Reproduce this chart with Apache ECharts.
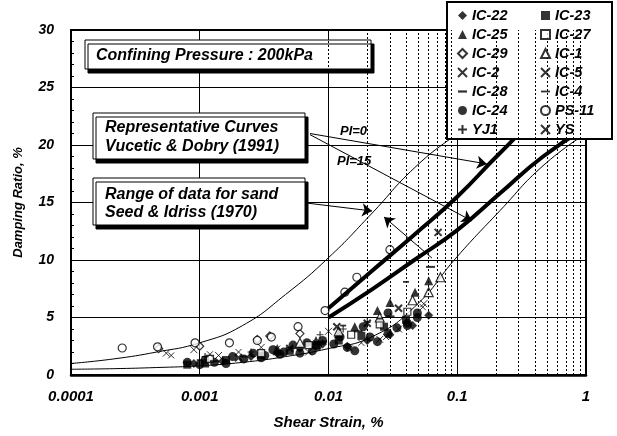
<!DOCTYPE html>
<html><head><meta charset="utf-8">
<script src="https://cdn.jsdelivr.net/npm/echarts@6/dist/echarts.min.js"></script>
<style>html,body{margin:0;padding:0;background:#fff}#c{width:617px;height:436px}</style>
</head><body><div id="c"></div>
<script>
// ---- tick labels ----
const xTickLabels = ['0.0001', '0.001', '0.01', '0.1', '1'];
const yTickLabels = ['0', '5', '10', '15', '20', '25', '30'];

// ---- measured data series [strain %, damping %] ----
const ic22 = [[0.0009,1.0],[0.0015,1.2],[0.0025,1.6],[0.004,1.9],[0.006,2.3],[0.009,2.7],[0.014,2.5],[0.02,3.0],[0.03,3.5],[0.045,4.3],[0.06,5.2]];
const ic23 = [[0.0008,0.9],[0.0011,1.0],[0.0016,1.3],[0.003,1.7],[0.005,2.1],[0.008,2.6],[0.012,3.0],[0.018,3.4],[0.027,4.2],[0.04,4.8]];
const ic25 = [[0.004,2.3],[0.008,3.0],[0.012,3.6],[0.016,4.2],[0.024,5.6],[0.03,6.3],[0.047,7.2],[0.06,8.2]];
const ic27 = [[0.0012,1.4],[0.003,1.9],[0.007,2.6],[0.015,3.5],[0.025,4.4],[0.041,5.5]];
const ic29 = [[0.00048,2.3],[0.001,2.5],[0.0028,3.1],[0.0035,3.4],[0.006,3.6]];
const ic1  = [[0.006,2.8],[0.012,3.8],[0.025,5.0],[0.045,6.5],[0.06,7.2],[0.074,8.5]];
const ic2  = [[0.0006,1.7],[0.0012,1.8],[0.002,2.0],[0.004,2.3],[0.008,2.8],[0.0146,2.3],[0.018,2.8],[0.028,3.3],[0.054,5.9]];
const ic5  = [[0.002,1.5],[0.005,2.3],[0.0116,4.2],[0.02,4.5],[0.035,5.8],[0.071,12.4]];
const ic28 = [[0.001,1.3],[0.0022,1.6],[0.006,2.2],[0.013,4.3],[0.025,4.9],[0.04,8.1]];
const ic4  = [[0.0013,1.2],[0.004,1.8],[0.009,2.9],[0.017,3.8],[0.03,5.1],[0.062,9.4]];
const ic24 = [[0.0008,1.1],[0.001,0.9],[0.0011,1.3],[0.0013,1.1],[0.0016,1.0],[0.0018,1.6],[0.0022,1.4],[0.0026,1.9],[0.003,1.5],[0.0032,1.7],[0.0037,2.2],[0.0042,1.8],[0.0045,2.0],[0.0053,2.6],[0.006,1.9],[0.0068,2.8],[0.0075,2.1],[0.0082,2.5],[0.009,3.0],[0.011,2.7],[0.0123,3.3],[0.014,2.4],[0.016,2.1],[0.0186,4.2],[0.021,3.3],[0.024,2.9],[0.029,5.4],[0.029,3.6],[0.034,4.1],[0.041,4.5],[0.041,4.3],[0.049,5.0],[0.049,5.4]];
const ps11 = [[0.00025,2.35],[0.00047,2.45],[0.00092,2.8],[0.0017,2.8],[0.0028,3.0],[0.0036,3.3],[0.0058,4.2],[0.0094,5.6],[0.0134,7.2],[0.0166,8.5],[0.030,10.9]];
const yj1  = [[0.0011,1.6],[0.0025,2.0],[0.0086,3.5],[0.013,4.0],[0.02,4.6]];
const ys   = [[0.00055,1.9],[0.0009,2.2],[0.0014,1.7],[0.003,2.4],[0.007,2.0],[0.01,3.8],[0.025,3.1],[0.055,6.2],[0.035,4.0]];

// ---- reference curves (read at ~1/3-decade steps) ----
const seedUpper = [[0.0001,1.0],[0.000215,1.4],[0.000464,2.0],[0.001,2.8],[0.00215,4.3],[0.00464,7.0],[0.01,10.2],[0.0215,14.0],[0.0464,18.0],[0.1,21],[0.215,23.7],[0.464,25.2],[1,26]];
const seedLower = [[0.0001,0.5],[0.000215,0.55],[0.000464,0.65],[0.001,0.8],[0.00215,1.1],[0.00464,1.6],[0.01,2.3],[0.0215,3.3],[0.0464,5.9],[0.1,10.3],[0.215,14.3],[0.464,18.2],[1,21]];
const vdPI0  = [[0.01,5.8],[0.0215,9.0],[0.0464,12.2],[0.1,15.5],[0.215,19.3],[0.464,22.8],[1,25]];
const vdPI15 = [[0.01,5.0],[0.0215,7.4],[0.0464,10.0],[0.1,12.6],[0.215,15.8],[0.464,19.0],[1,21.5]];

const leftNames  = ['IC-22','IC-25','IC-29','IC-2','IC-28','IC-24','YJ1'];
const rightNames = ['IC-23','IC-27','IC-1','IC-5','IC-4','PS-11','YS'];

const FONT = '"Liberation Sans", Arial, sans-serif';
const filled = {color:'#000', borderColor:'#000', borderWidth:0};
const open = {color:'#fff', borderColor:'#000', borderWidth:1.2};
const stroke = (w) => ({color:'#000', borderColor:'#000', borderWidth:w});
const X_PATH = 'path://M0,0L10,10M10,0L0,10';
const PLUS_PATH = 'path://M5,0L5,10M0,5L10,5';
const DASH_S = 'path://M0,0L10,0L10,2.5L0,2.5Z';
const DASH_L = 'path://M0,0L10,0L10,2L0,2Z';

function sc(name, data, symbol, size, style) {
  return {type:'scatter', name, data, symbol, symbolSize:size, itemStyle:style, z:3, animation:false, silent:true};
}

// minor vertical grid positions (2..9 within each decade)
const minorX = [];
[0.0001,0.001,0.01,0.1].forEach(d => { for (let k=2;k<=9;k++) minorX.push({xAxis: +(d*k).toPrecision(3)}); });

const curve = (name, data, w, z) => ({type:'line', name, data, smooth:0.5, showSymbol:false, symbol:'none',
   lineStyle:{color:'#000', width:w}, z, animation:false, silent:true});

const s0 = curve('Seed upper', seedUpper, 1, 2);
s0.markLine = {silent:true, symbol:'none', label:{show:false}, animation:false,
     lineStyle:{color:'#000', width:1, type:[2,2]}, data:minorX};
const s2 = curve('PI0', vdPI0, 4, 4);
s2.markLine = {silent:true, symbol:['none','arrow'], symbolSize:10, label:{show:false}, animation:false,
     lineStyle:{color:'#000', width:1, type:'solid'},
     data:[
       [{coord:[0.00718,21.0]},{coord:[0.170,18.35]}],
       [{coord:[0.00718,20.9]},{coord:[0.130,13.4]}],
       [{coord:[0.00668,14.96]},{coord:[0.0218,14.26]}],
       [{coord:[0.0636,10.17]},{coord:[0.0270,13.74]}]
     ]};

const series = [
  s0,
  curve('Seed lower', seedLower, 1, 2),
  s2,
  curve('PI15', vdPI15, 4, 4),
  sc('IC-24', ic24, 'circle', 9, filled),
  sc('IC-22', ic22, 'diamond', 9, filled),
  sc('IC-23', ic23, 'rect', 8, filled),
  sc('IC-25', ic25, 'triangle', 9, filled),
  sc('IC-27', ic27, 'rect', 7, open),
  sc('IC-29', ic29, 'diamond', 8, open),
  sc('IC-1', ic1, 'triangle', 9, open),
  sc('IC-2', ic2, X_PATH, 6, stroke(1)),
  sc('IC-5', ic5, X_PATH, 7, stroke(2)),
  sc('IC-28', ic28, DASH_S, [6,1.8], filled),
  sc('IC-4', ic4, DASH_L, [9,2], filled),
  sc('PS-11', ps11, 'circle', 8, open),
  sc('YJ1', yj1, PLUS_PATH, 7, stroke(1.2)),
  sc('YS', ys, X_PATH, 7, stroke(1))
];

const legendBase = {orient:'vertical', top:8, itemWidth:9, itemHeight:9, itemGap:4, padding:0, z:10,
  selectedMode:false, textStyle:{fontFamily:FONT, fontWeight:'bold', fontStyle:'italic', fontSize:14.5, color:'#000'}};

const txtFont = 'italic bold 16px ' + FONT;
function boxRect(x,y,w,h){ return {type:'rect', shape:{x,y,width:w,height:h}, z:5, silent:true,
  style:{fill:'#fff', stroke:'#000', lineWidth:1, shadowBlur:0, shadowOffsetX:3, shadowOffsetY:4, shadowColor:'#000'}}; }
function txt(t,x,y,font){ return {type:'text', x, y, z:6, silent:true, style:{text:t, font:font||txtFont, fill:'#000', verticalAlign:'middle', align:'left'}}; }

const option = {
  animation:false,
  backgroundColor:'#fff',
  grid:{left:71, right:31, top:30, bottom:61, show:true, borderColor:'#000', borderWidth:2, backgroundColor:'transparent'},
  xAxis:{type:'log', logBase:10, min:0.0001, max:1,
    name:'Shear Strain, %', nameLocation:'middle', nameGap:40,
    nameTextStyle:{fontFamily:FONT, fontWeight:'bold', fontStyle:'italic', fontSize:15, color:'#000'},
    axisLine:{lineStyle:{color:'#000', width:2.5}}, axisTick:{show:false},
    axisLabel:{margin:14, fontFamily:FONT, fontWeight:'bold', fontStyle:'italic', fontSize:15, color:'#000',
      formatter:(v)=>xTickLabels[Math.round(Math.log10(v))+4]},
    splitLine:{show:true, lineStyle:{color:'#000', width:1}}},
  yAxis:{type:'value', min:0, max:30, interval:5,
    name:'Damping Ratio, %', nameLocation:'middle', nameGap:46, nameRotate:90,
    nameTextStyle:{fontFamily:FONT, fontWeight:'bold', fontStyle:'italic', fontSize:13, color:'#000'},
    axisLine:{lineStyle:{color:'#000', width:2}},
    axisTick:{show:true, inside:true, length:4, lineStyle:{color:'#000'}},
    minorTick:{show:true, splitNumber:5, length:3, lineStyle:{color:'#000'}},
    axisLabel:{margin:17, fontFamily:FONT, fontWeight:'bold', fontStyle:'italic', fontSize:14, color:'#000',
      formatter:(v)=>yTickLabels[Math.round(v/5)]},
    splitLine:{show:true, lineStyle:{color:'#000', width:1}}},
  legend:[
    Object.assign({}, legendBase, {left:457, data:leftNames}),
    Object.assign({}, legendBase, {left:540, data:rightNames})
  ],
  graphic:[
    {type:'rect', shape:{x:447,y:2,width:165,height:137}, z:5, silent:true, style:{fill:'#fff', stroke:'#000', lineWidth:2}},
    boxRect(85,40,286,29),
    txt('Confining Pressure : 200kPa', 96, 56),
    boxRect(93,113,212,46),
    txt('Representative Curves', 105, 128),
    txt('Vucetic & Dobry (1991)', 105, 147),
    boxRect(93,178,212,47),
    txt('Range of data for sand', 105, 195),
    txt('Seed & Idriss (1970)', 105, 213),
    txt('PI=0', 340, 131, 'italic bold 13px ' + FONT),
    txt('PI=15', 337, 161, 'italic bold 13px ' + FONT)
  ],
  series
};

const chart = echarts.init(document.getElementById('c'), null, {renderer:'canvas'});
chart.setOption(option);
</script></body></html>
